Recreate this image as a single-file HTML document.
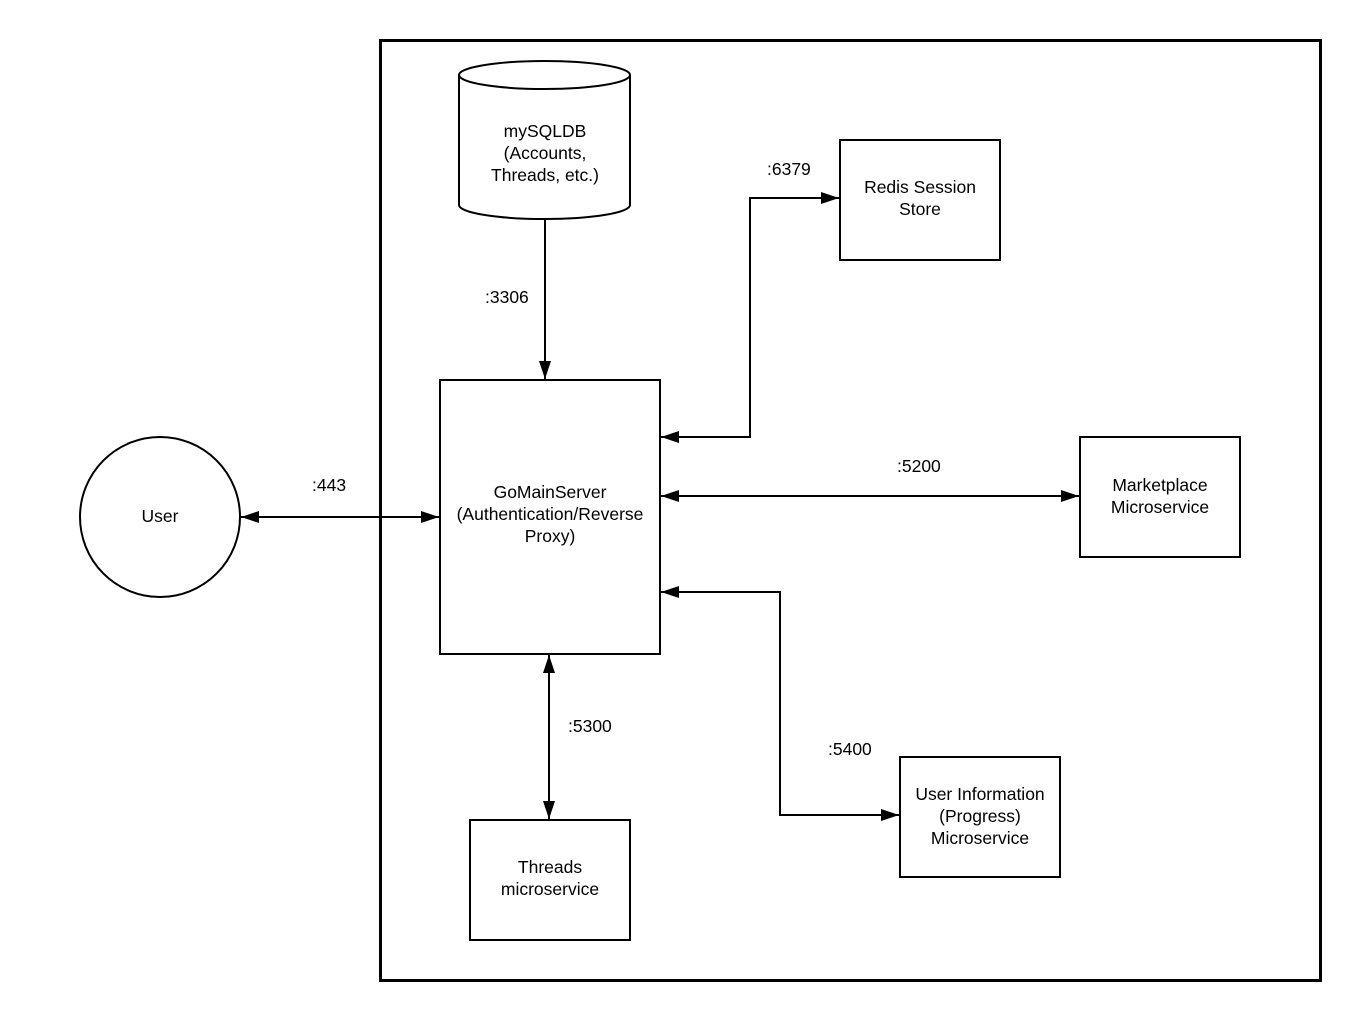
<!DOCTYPE html>
<html><head><meta charset="utf-8"><style>
html,body{margin:0;padding:0;background:#fff;}
svg{display:block;}
text{font-family:"Liberation Sans",Arial,sans-serif;font-size:17.5px;fill:#000;}
</style></head><body>
<svg width="1360" height="1020" viewBox="0 0 1360 1020">
<defs>
<marker id="a" markerWidth="18" markerHeight="12" refX="18" refY="6" orient="auto-start-reverse" markerUnits="userSpaceOnUse" viewBox="0 0 18 12">
<path d="M0,0 L18,6 L0,12 Z" fill="#000"/>
</marker>
</defs>
<style>.m{marker-end:url(#a);} .b{marker-start:url(#a);marker-end:url(#a);}</style>
<rect x="380.5" y="40.5" width="940" height="940" fill="none" stroke="#000" stroke-width="3"/>
<path d="M459,75 L459,205 A85.5,14 0 0 0 630,205 L630,75" fill="#fff" stroke="#000" stroke-width="2"/>
<ellipse cx="544.5" cy="75" rx="85.5" ry="14" fill="#fff" stroke="#000" stroke-width="2"/>
<g text-anchor="middle">
<text x="545" y="137">mySQLDB</text>
<text x="545" y="159">(Accounts,</text>
<text x="545" y="181">Threads, etc.)</text>
</g>
<rect x="440" y="380" width="220" height="274" fill="#fff" stroke="#000" stroke-width="2"/>
<rect x="840" y="140" width="160" height="120" fill="#fff" stroke="#000" stroke-width="2"/>
<rect x="1080" y="437" width="160" height="120" fill="#fff" stroke="#000" stroke-width="2"/>
<rect x="900" y="757" width="160" height="120" fill="#fff" stroke="#000" stroke-width="2"/>
<rect x="470" y="820" width="160" height="120" fill="#fff" stroke="#000" stroke-width="2"/>
<circle cx="160" cy="517" r="80" fill="#fff" stroke="#000" stroke-width="2"/>
<g text-anchor="middle">
<text x="550" y="498">GoMainServer</text>
<text x="550" y="520">(Authentication/Reverse</text>
<text x="550" y="542">Proxy)</text>
<text x="920" y="193">Redis Session</text>
<text x="920" y="215">Store</text>
<text x="1160" y="491">Marketplace</text>
<text x="1160" y="513">Microservice</text>
<text x="980" y="800">User Information</text>
<text x="980" y="822">(Progress)</text>
<text x="980" y="844">Microservice</text>
<text x="550" y="873">Threads</text>
<text x="550" y="895">microservice</text>
<text x="160" y="522">User</text>
</g>
<g fill="none" stroke="#000" stroke-width="2">
<line x1="545" y1="220" x2="545" y2="379" class="m"/>
<polyline points="661,437 750,437 750,198 839,198" class="b"/>
<line x1="661" y1="496" x2="1079" y2="496" class="b"/>
<polyline points="661,592 780,592 780,815 899,815" class="b"/>
<line x1="549" y1="655" x2="549" y2="819" class="b"/>
<line x1="241" y1="517" x2="439" y2="517" class="b"/>
</g>
<text x="485" y="303">:3306</text>
<text x="767" y="175">:6379</text>
<text x="897" y="472">:5200</text>
<text x="828" y="755">:5400</text>
<text x="568" y="732">:5300</text>
<text x="312" y="491">:443</text>
</svg>
</body></html>
